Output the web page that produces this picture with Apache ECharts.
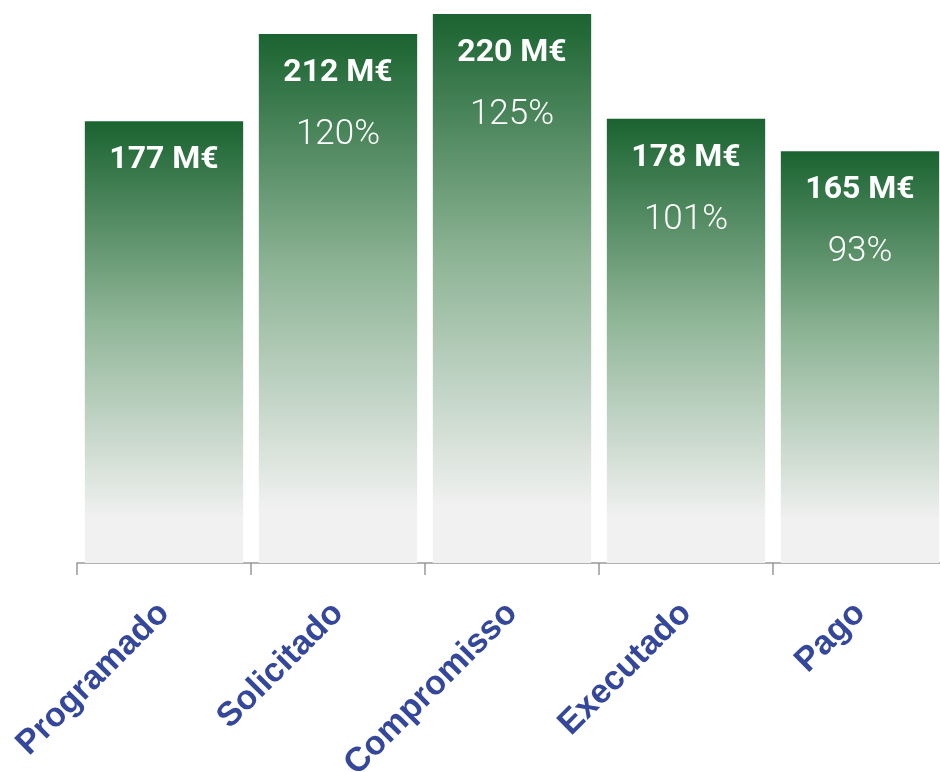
<!DOCTYPE html>
<html>
<head>
<meta charset="utf-8">
<script src="https://cdn.jsdelivr.net/npm/echarts@6/dist/echarts.min.js"></script>
<style>
  html, body { margin: 0; padding: 0; background: #fff; }
  #main { width: 940px; height: 772px; }
</style>
</head>
<body>
<div id="main"></div>
<script>
const categories = ["Programado", "Solicitado", "Compromisso", "Executado", "Pago"];
const values = [177, 212, 220, 178, 165];
const percents = ["", "120%", "125%", "101%", "93%"];

const chart = echarts.init(document.getElementById("main"));

const barGradient = new echarts.graphic.LinearGradient(0, 0, 0, 1, [
  { offset: 0, color: "#1a6330" },
  { offset: 0.45, color: "#8fb597" },
  { offset: 0.9, color: "#f1f1f1" },
  { offset: 1, color: "#f1f1f1" },
]);

const option = {
  animation: false,
  grid: {
    left: 77,
    top: 0,
    width: 870,
    bottom: 209,
    containLabel: false,
    outerBoundsMode: "none",
  },
  xAxis: {
    type: "category",
    data: categories,
    axisLine: { lineStyle: { color: "#999", width: 1.5 } },
    axisTick: { show: true, length: 12, lineStyle: { color: "#999", width: 1.5 } },
    axisLabel: {
      rotate: 45,
      margin: 45,
      interval: 0,
      color: "#34479a",
      fontFamily: "Liberation Sans, Arial, sans-serif",
      fontWeight: "bold",
      fontSize: 34,
    },
  },
  yAxis: {
    type: "value",
    min: 0,
    max: 225.6,
    show: false,
    splitLine: { show: false },
  },
  series: [
    {
      type: "bar",
      data: values,
      barWidth: "91%",
      itemStyle: { color: barGradient },
      label: {
        show: true,
        position: "insideTop",
        distance: 9,
        formatter: (p) => {
          const pct = percents[p.dataIndex];
          return pct ? `{v|${p.value} M€}\n{p|${pct}}` : `{v|${p.value} M€}`;
        },
        rich: {
          v: {
            color: "#fff",
            fontFamily: "Roboto",
            fontWeight: "bold",
            fontSize: 32,
            lineHeight: 60,
          },
          p: {
            color: "#fff",
            fontFamily: "Roboto",
            fontWeight: 300,
            fontSize: 35,
            lineHeight: 64,
          },
        },
      },
    },
  ],
};

chart.setOption(option);
</script>
</body>
</html>
